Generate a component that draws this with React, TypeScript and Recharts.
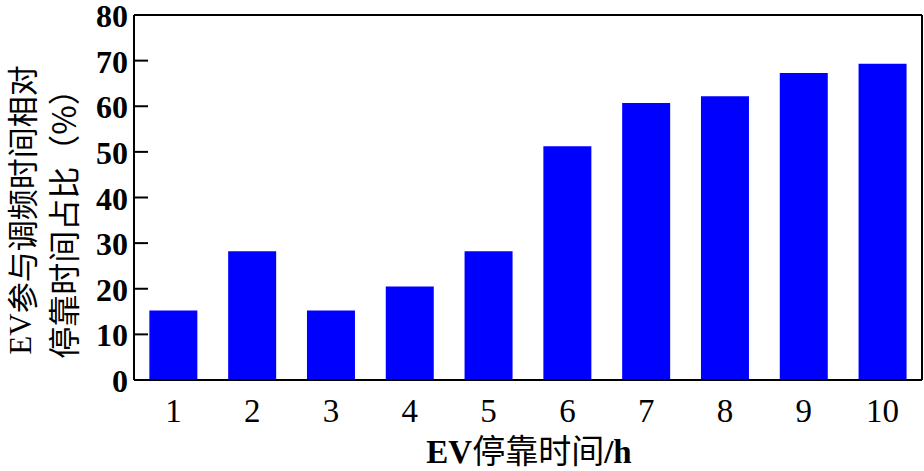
import { BarChart, Bar, XAxis, YAxis, ReferenceLine, Customized } from "recharts";

const hours = ["1", "2", "3", "4", "5", "6", "7", "8", "9", "10"];
const share = [15.25, 28.2, 15.25, 20.5, 28.2, 51.25, 60.7, 62.2, 67.3, 69.3];
const yTicks = [0, 10, 20, 30, 40, 50, 60, 70, 80];

const data = hours.map((h, i) => ({ hour: h, share: share[i] }));

const serif = "'Liberation Serif', 'Times New Roman', serif";
const cjk = "'Noto Sans CJK SC', sans-serif";
const plotLeft = 134;

function YTick(props: any) {
  const { y, payload } = props;
  return (
    <g>
      <line x1={plotLeft} x2={plotLeft + 14} y1={y} y2={y} stroke="#000" strokeWidth={2} />
      <text x={plotLeft - 6} y={y + 12} textAnchor="end" fontFamily={serif} fontWeight="bold" fontSize={32} fill="#000">
        {payload.value}
      </text>
    </g>
  );
}

function XTick(props: any) {
  const { x, y, payload } = props;
  return (
    <text x={x} y={y + 42} textAnchor="middle" fontFamily={serif} fontSize={33} fill="#000">
      {payload.value}
    </text>
  );
}

function Titles() {
  return (
    <g fill="#000">
      <text x={529} y={463} textAnchor="middle" fontSize={33}>
        <tspan fontFamily={serif} fontWeight="bold">EV</tspan>
        <tspan fontFamily={cjk}>停靠时间</tspan>
        <tspan fontFamily={serif} fontWeight="bold">/h</tspan>
      </text>
      <text x={20} y={210} transform="rotate(-90 20 210)" textAnchor="middle" dominantBaseline="central" fontSize={31}>
        <tspan fontFamily={serif}>EV</tspan>
        <tspan fontFamily={cjk}>参与调频时间相对</tspan>
      </text>
      <text x={62} y={216} transform="rotate(-90 62 216)" textAnchor="middle" dominantBaseline="central" fontSize={32} fontFamily={cjk}>
        停靠时间占比（%）
      </text>
    </g>
  );
}

export default function App() {
  return (
    <div style={{ position: "absolute", left: 0, top: 0, background: "#fff" }}>
      <BarChart width={924} height={471} data={data} margin={{ top: 15, right: 0, bottom: 0, left: 0 }} barCategoryGap="19.5%">
        <XAxis
          dataKey="hour"
          height={91}
          axisLine={{ stroke: "#000", strokeWidth: 2 }}
          tickLine={false}
          tickSize={0}
          tickMargin={0}
          tick={<XTick />}
          interval={0}
        />
        <YAxis
          yAxisId="left"
          width={plotLeft}
          domain={[0, 80]}
          ticks={yTicks}
          axisLine={{ stroke: "#000", strokeWidth: 2 }}
          tickLine={false}
          tick={<YTick />}
          interval={0}
        />
        <YAxis yAxisId="right" orientation="right" width={2} domain={[0, 80]} tick={false} tickLine={false} axisLine={{ stroke: "#000", strokeWidth: 2 }} />
        <ReferenceLine yAxisId="left" y={80} stroke="#000" strokeWidth={2} />
        <Bar yAxisId="left" dataKey="share" fill="#0000ff" isAnimationActive={false} />
        <Customized component={<Titles />} />
      </BarChart>
    </div>
  );
}
